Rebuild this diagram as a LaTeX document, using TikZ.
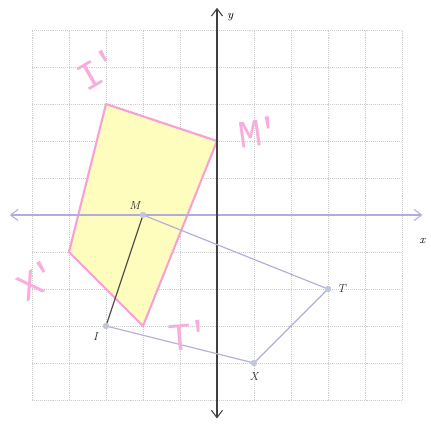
\documentclass[tikz,border=0pt]{standalone}
\usepackage{fontspec}
\newfontfamily\handfont{Liberation Mono}
\usepackage{tikz}
\usetikzlibrary{arrows.meta, positioning}

\definecolor{lavender}{RGB}{178,172,222}
\definecolor{penpink}{RGB}{246,160,214}
\definecolor{hiyellow}{RGB}{255,253,190}
\definecolor{dotfill}{RGB}{190,200,215}

\begin{document}
\begin{tikzpicture}[
    gridline/.style={gray!40, densely dotted, line width=0.5pt},
    xaxis/.style={{Straight Barb[length=2mm,width=3mm]}-{Straight Barb[length=2mm,width=3mm]}, lavender, line width=0.8pt},
    yaxis/.style={{Straight Barb[length=2mm,width=3mm]}-{Straight Barb[length=2mm,width=3mm]}, black!75, line width=0.8pt},
    vertex/.style={circle, fill=dotfill, draw=lavender!70, inner sep=0pt, minimum size=1.6mm},
    side/.style={lavender, line width=0.9pt},
    image/.style={penpink, line width=1.6pt, fill=hiyellow, line join=round},
    hand/.style={text=penpink!85, inner sep=1pt, font=\handfont\fontsize{30}{30}\selectfont},
    vlabel/.style={font=\small\itshape, text=black!80}
  ]
    \useasboundingbox (-5.865,-5.730) rectangle (5.784,5.811);

    % grid
    \foreach \i in {-5,...,5} {
      \draw[gridline] (\i,-5) -- (\i,5);
      \draw[gridline] (-5,\i) -- (5,\i);
    }

    % rotated figure (handwritten)
    \coordinate (Ip) at (-3,3);
    \coordinate (Mp) at (0,2);
    \coordinate (Tp) at (-2,-3);
    \coordinate (Xp) at (-4,-1);
    \draw[image] (Ip) -- (Mp) -- (Tp) -- (Xp) -- cycle;

    % axes
    \coordinate (xl) at (-5.6,0);
    \coordinate (xr) at (5.55,0);
    \coordinate (yb) at (0,-5.5);
    \coordinate (yt) at (0,5.6);
    \draw[xaxis] (xl) -- (xr);
    \draw[yaxis] (yb) -- (yt);
    \node[font=\small\itshape] (ylab) at (0.36,5.35) {y};
    \node[font=\small\itshape] (xlab) at (5.55,-0.7) {x};

    % quadrilateral MTXI
    \node[vertex] (M) at (-2,0) {};
    \node[vertex] (T) at (3,-2) {};
    \node[vertex] (X) at (1,-4) {};
    \node[vertex] (I) at (-3,-3) {};
    \draw[side] (M) -- (T);
    \draw[side] (T) -- (X);
    \draw[side] (X) -- (I);
    \draw[black!70, line width=0.9pt] (I) -- (M);

    \node[vlabel, above left=-1pt and -3pt of M] (Mlab) {M};
    \node[vlabel, right=1pt of T] (Tlab) {T};
    \node[vlabel, below=1pt of X] (Xlab) {X};
    \node[vlabel, below left=0pt and 1pt of I] (Ilab) {I};

    % handwritten labels
    \node[hand, rotate=30] (Iplab) at (-3.2,3.95) {I\kern-2pt'};
    \node[hand, rotate=8] (Mplab) at (1.15,2.25) {M\kern-3pt'};
    \node[hand, rotate=30] (Xplab) at (-4.85,-1.75) {X\kern-3pt'};
    \node[hand, rotate=5] (Tplab) at (-0.75,-3.25) {T\kern-3pt'};
\end{tikzpicture}
\end{document}
